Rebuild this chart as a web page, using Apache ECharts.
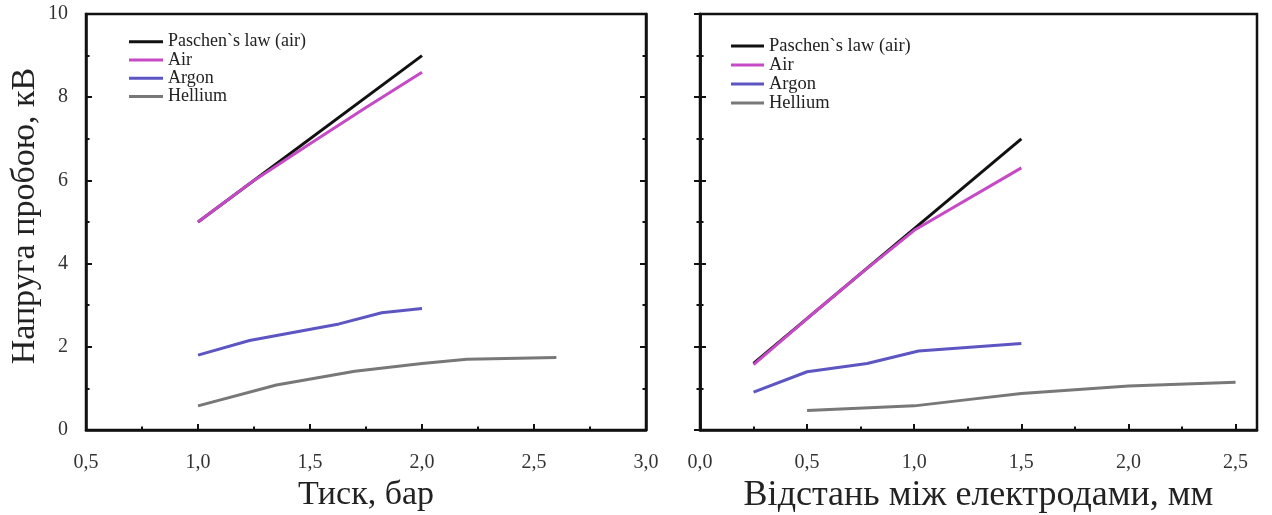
<!DOCTYPE html>
<html>
<head>
<meta charset="utf-8">
<script src="https://cdn.jsdelivr.net/npm/echarts@6/dist/echarts.min.js"></script>
<style>
html,body{margin:0;padding:0;background:#fff;}
#chart{width:1272px;height:515px;}
</style>
</head>
<body>
<div id="chart"></div>
<script>
// ---- Data ----
const seriesNames = ['Paschen`s law (air)', 'Air', 'Argon', 'Hellium'];

// Left panel: breakdown voltage (kV) vs pressure (bar)
const leftPaschen = [[1.0, 5.0], [2.0, 9.0]];
const leftAir = [[1.0, 5.0], [1.25, 6.0], [1.5, 6.88], [1.75, 7.75], [2.0, 8.6]];
const leftArgon = [[1.0, 1.8], [1.23, 2.15], [1.63, 2.55], [1.82, 2.82], [2.0, 2.92]];
const leftHelium = [[1.0, 0.58], [1.35, 1.08], [1.7, 1.41], [2.0, 1.6], [2.2, 1.7], [2.6, 1.74]];

// Right panel: breakdown voltage (kV) vs electrode gap (mm)
const rightPaschen = [[0.25, 1.6], [1.5, 7.0]];
const rightAir = [[0.25, 1.57], [0.5, 2.68], [0.75, 3.76], [1.0, 4.8], [1.5, 6.3]];
const rightArgon = [[0.25, 0.91], [0.5, 1.4], [0.78, 1.6], [1.02, 1.9], [1.5, 2.08]];
const rightHelium = [[0.5, 0.47], [1.0, 0.58], [1.25, 0.73], [1.5, 0.88], [1.75, 0.97], [2.0, 1.06], [2.5, 1.15]];

const leftXTicks = [0.5, 3.0, 0.5];   // min, max, interval
const rightXTicks = [0.0, 2.6, 0.5];
const yTicks = [0, 10, 2];

const xTitleLeft = 'Тиск, бар';
const xTitleRight = 'Відстань між електродами, мм';
const yTitle = 'Напруга пробою, кВ';

// ---- Styles ----
const FONT = 'Liberation Serif';
const colors = ['#111111', '#c64ac6', '#5d55c2', '#787878'];
const frame = '#111';
const comma = v => v.toFixed(1).replace('.', ',');

const tickStyle = () => ({show: true, inside: true, length: 6, lineStyle: {color: frame, width: 2}});
const minorStyle = () => ({show: true, splitNumber: 2, length: 3.5, lineStyle: {color: frame, width: 2}});
const lineAxis = () => ({show: true, lineStyle: {color: frame, width: 2.5}});

function yAxis(grid, pos, labels) {
  return {
    type: 'value', gridIndex: grid, position: pos,
    min: yTicks[0], max: yTicks[1], interval: yTicks[2],
    axisLine: lineAxis(), axisTick: tickStyle(), minorTick: minorStyle(),
    splitLine: {show: false}, minorSplitLine: {show: false},
    axisLabel: labels ? {show: true, inside: false, margin: 18, fontSize: 20, fontFamily: FONT, color: '#333'} : {show: false},
    name: labels ? yTitle : '', nameLocation: 'middle', nameGap: 44,
    nameTextStyle: {fontSize: 34, fontFamily: FONT, color: '#222', padding: [0, 0, 0, 12]}
  };
}

const option = {
  backgroundColor: '#fff',
  animation: false,
  grid: [
    {left: 86, right: 626, top: 14, bottom: 85, show: true, borderColor: frame, borderWidth: 2.5, outerBoundsMode: 'none', containLabel: false},
    {left: 700, right: 15, top: 14, bottom: 85, show: true, borderColor: frame, borderWidth: 2.5, outerBoundsMode: 'none', containLabel: false}
  ],
  xAxis: [
    {
      type: 'value', gridIndex: 0, position: 'bottom',
      min: leftXTicks[0], max: leftXTicks[1], interval: leftXTicks[2],
      axisLine: lineAxis(), axisTick: tickStyle(), minorTick: minorStyle(),
      splitLine: {show: false}, minorSplitLine: {show: false},
      axisLabel: {margin: 23, fontSize: 20, fontFamily: FONT, color: '#333', formatter: comma},
      name: xTitleLeft, nameLocation: 'middle', nameGap: 47,
      nameTextStyle: {fontSize: 34, fontFamily: FONT, color: '#222'}
    },
    {
      type: 'value', gridIndex: 1, position: 'bottom',
      min: rightXTicks[0], max: rightXTicks[1], interval: rightXTicks[2],
      axisLine: lineAxis(), axisTick: tickStyle(),
      splitLine: {show: false},
      axisLabel: {margin: 23, fontSize: 20, fontFamily: FONT, color: '#333', formatter: comma, showMaxLabel: false},
      name: xTitleRight, nameLocation: 'middle', nameGap: 47,
      nameTextStyle: {fontSize: 36, fontFamily: FONT, color: '#222'}
    },
    {
      type: 'value', gridIndex: 1, position: 'top', offset: -416,
      min: rightXTicks[0], max: rightXTicks[1], interval: rightXTicks[2] / 2,
      axisLine: {show: false},
      axisTick: {show: true, inside: false, length: 3.5, lineStyle: {color: frame, width: 2}},
      axisLabel: {show: false}, splitLine: {show: false}
    }
  ],
  yAxis: [yAxis(0, 'left', true), yAxis(0, 'right', false), yAxis(1, 'left', false), yAxis(1, 'right', false)],
  legend: [
    {
      left: 129, top: 32.5, padding: 0, orient: 'vertical', itemGap: 0, itemWidth: 34, itemHeight: 3,
      icon: 'rect', data: seriesNames,
      textStyle: {fontSize: 18, fontFamily: FONT, color: '#222', lineHeight: 18.3}
    },
    {
      left: 731, top: 36.5, padding: 0, orient: 'vertical', itemGap: 0, itemWidth: 33, itemHeight: 3,
      icon: 'rect', data: seriesNames,
      textStyle: {fontSize: 18.5, fontFamily: FONT, color: '#222', lineHeight: 18.4}
    }
  ],
  series: []
};

const leftData = [leftPaschen, leftAir, leftArgon, leftHelium];
const rightData = [rightPaschen, rightAir, rightArgon, rightHelium];
[[leftData, 0, 0], [rightData, 1, 2]].forEach(([sets, xi, yi]) => {
  sets.forEach((d, i) => {
    option.series.push({
      type: 'line', name: seriesNames[i], data: d,
      xAxisIndex: xi, yAxisIndex: yi,
      symbol: 'none', smooth: false, color: colors[i],
      lineStyle: {width: 3, color: colors[i]},
      z: i === 1 ? 4 : 3
    });
  });
});

const chart = echarts.init(document.getElementById('chart'), null, {renderer: 'canvas'});
chart.setOption(option);
</script>
</body>
</html>
